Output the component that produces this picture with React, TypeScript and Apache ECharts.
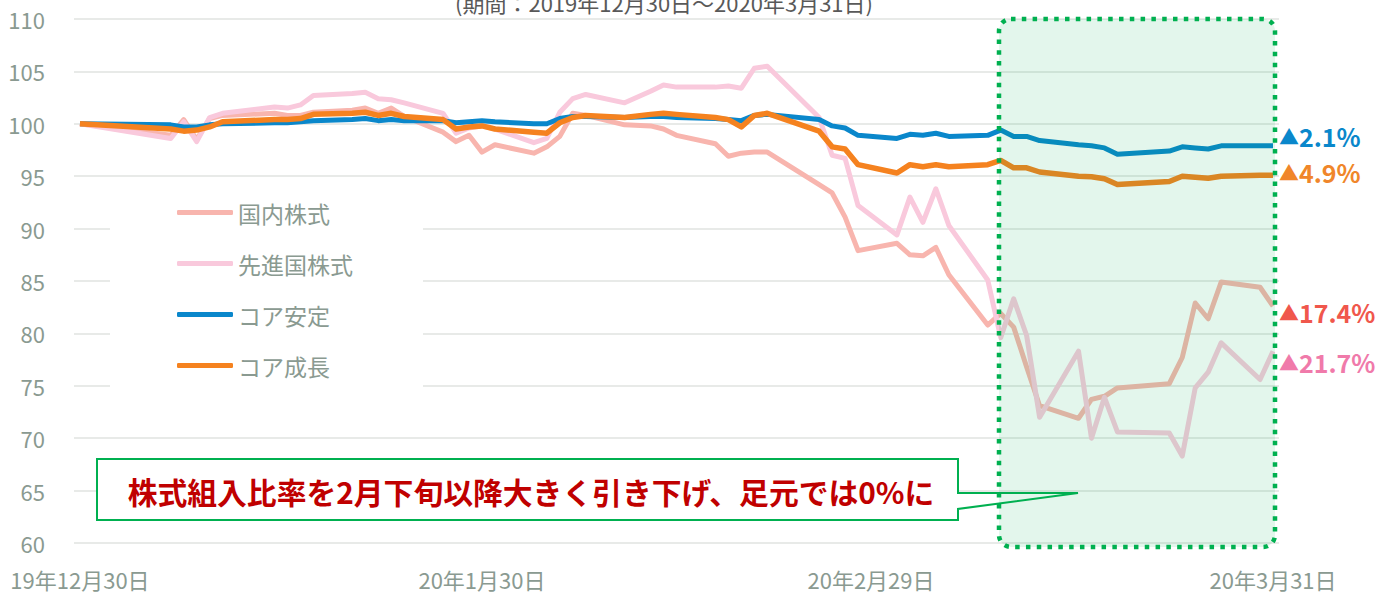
import React, { useEffect, useRef } from "react";
import * as echarts from "echarts";

const dates = [
  "2019-12-30",
  "2020-01-06", "2020-01-07", "2020-01-08", "2020-01-09", "2020-01-10",
  "2020-01-14", "2020-01-15", "2020-01-16", "2020-01-17",
  "2020-01-20", "2020-01-21", "2020-01-22", "2020-01-23", "2020-01-24",
  "2020-01-27", "2020-01-28", "2020-01-29", "2020-01-30", "2020-01-31",
  "2020-02-03", "2020-02-04", "2020-02-05", "2020-02-06", "2020-02-07",
  "2020-02-10", "2020-02-12", "2020-02-13", "2020-02-14",
  "2020-02-17", "2020-02-18", "2020-02-19", "2020-02-20", "2020-02-21",
  "2020-02-25", "2020-02-26", "2020-02-27", "2020-02-28",
  "2020-03-02", "2020-03-03", "2020-03-04", "2020-03-05", "2020-03-06",
  "2020-03-09", "2020-03-10", "2020-03-11", "2020-03-12", "2020-03-13",
  "2020-03-16", "2020-03-17", "2020-03-18", "2020-03-19",
  "2020-03-23", "2020-03-24", "2020-03-25", "2020-03-26", "2020-03-27",
  "2020-03-30", "2020-03-31",
];

const domesticStocks = [
  100, 98.9, 100.4, 98.5, 100.5, 100.8, 101.0, 100.8, 100.8, 101.1,
  101.3, 101.5, 101.0, 101.5, 100.7, 99.2, 98.3, 98.9, 97.3, 98.0,
  97.2, 97.8, 98.8, 101.0, 100.8, 99.9, 99.8, 99.5, 98.9, 98.1,
  96.9, 97.2, 97.3, 97.3, 94.2, 93.4, 91.1, 87.9, 88.6, 87.5,
  87.4, 88.2, 85.6, 80.8, 81.9, 80.6, 76.8, 73.1, 71.9, 73.7,
  74.0, 74.8, 75.2, 77.7, 82.9, 81.4, 84.9, 84.4, 82.6,
];

const developedStocks = [
  100, 98.6, 100.2, 98.3, 100.6, 101.0, 101.6, 101.5, 101.8, 102.7,
  102.9, 103.0, 102.4, 102.3, 102.0, 101.0, 99.1, 99.6, 99.8, 99.5,
  98.2, 98.6, 101.1, 102.4, 102.8, 102.0, 103.1, 103.7, 103.5, 103.5,
  103.6, 103.4, 105.3, 105.5, 100.6, 97.0, 96.7, 92.2, 89.4, 93.0,
  90.6, 93.8, 90.3, 85.1, 79.6, 83.3, 79.8, 72.0, 78.3, 70.0,
  73.9, 70.6, 70.5, 68.3, 74.8, 76.3, 79.1, 75.6, 78.3,
];

const coreStable = [
  100, 99.9, 99.7, 99.7, 99.9, 100.0, 100.1, 100.1, 100.2, 100.3,
  100.4, 100.5, 100.3, 100.4, 100.3, 100.3, 100.1, 100.2, 100.3, 100.2,
  100.0, 100.0, 100.5, 100.7, 100.7, 100.6, 100.7, 100.7, 100.6, 100.5,
  100.4, 100.3, 100.8, 100.9, 100.4, 99.8, 99.6, 98.9, 98.6, 99.0,
  98.9, 99.1, 98.8, 98.9, 99.4, 98.8, 98.8, 98.4, 98.0, 97.9,
  97.7, 97.1, 97.4, 97.8, 97.7, 97.6, 97.9, 97.9, 97.9,
];

const coreGrowth = [
  100, 99.5, 99.3, 99.4, 99.7, 100.2, 100.4, 100.4, 100.5, 100.9,
  101.0, 101.1, 100.8, 101.0, 100.7, 100.4, 99.5, 99.7, 99.8, 99.5,
  99.2, 99.1, 100.1, 100.6, 100.8, 100.6, 100.9, 101.0, 100.9, 100.6,
  100.4, 99.7, 100.8, 101.0, 99.3, 97.8, 97.6, 96.1, 95.3, 96.1,
  95.9, 96.1, 95.9, 96.1, 96.5, 95.8, 95.8, 95.4, 95.0, 94.95,
  94.75, 94.2, 94.5, 95.0, 94.9, 94.8, 95.0, 95.1, 95.1,
];

const seriesNames = ["国内株式", "先進国株式", "コア安定", "コア成長"];
const seriesColors = ["#f8b5ae", "#f9c9dc", "#0a87cb", "#f5821f"];
const changeLabels = ["▲17.4%", "▲21.7%", "▲2.1%", "▲4.9%"];
const tickDates = ["2019-12-30", "2020-01-30", "2020-02-29", "2020-03-31"];
const tickLabels = ["19年12月30日", "20年1月30日", "20年2月29日", "20年3月31日"];
const periodText = "(期間：2019年12月30日～2020年3月31日)";
const calloutText = "株式組入比率を2月下旬以降大きく引き下げ、足元では0%に";

const FONT = "'Noto Sans CJK JP', 'Noto Sans', sans-serif";
const DAY = 86400000;
const base = Date.UTC(2019, 11, 30);
const dayOf = (s: string) => {
  const [y, m, d] = s.split("-").map(Number);
  return Math.round((Date.UTC(y, m - 1, d) - base) / DAY);
};

export default function App() {
  const ref = useRef<HTMLDivElement>(null);
  useEffect(() => {
    if (!ref.current) return;
    const chart = echarts.init(ref.current, null, { renderer: "svg" });
    const xs = dates.map(dayOf);
    const tickDays = tickDates.map(dayOf);
    const all = [domesticStocks, developedStocks, coreStable, coreGrowth];
    const labelColors = ["#f0574c", "#f07aaa", "#0a87cb", "#f0862a"];
    const labelY = [312, 362, 136, 172];

    chart.setOption({
      animation: false,
      textStyle: { fontFamily: FONT },
      grid: { left: 74, right: 100, top: 19, bottom: 51, containLabel: false },
      xAxis: {
        type: "value",
        min: -0.46,
        max: 92.46,
        axisLine: { show: false },
        axisTick: { show: false },
        splitLine: { show: false },
        axisLabel: {
          customValues: tickDays,
          formatter: (v: number) => {
            const i = tickDays.indexOf(Math.round(v));
            return i >= 0 ? tickLabels[i] : "";
          },
          color: "#8a9a91",
          fontSize: 22,
          fontFamily: FONT,
          margin: 25,
        },
      },
      yAxis: {
        type: "value",
        min: 60,
        max: 110,
        interval: 5,
        axisLine: { show: false },
        axisTick: { show: false },
        axisLabel: { color: "#8a9a91", fontSize: 22, fontFamily: FONT, margin: 29 },
        splitLine: { lineStyle: { color: "#e0e3e1", width: 1.6 } },
      },
      legend: {
        orient: "vertical",
        left: 110,
        top: 190,
        padding: [11, 70, 24, 67],
        backgroundColor: "#ffffff",
        itemWidth: 56,
        itemHeight: 5,
        itemGap: 28,
        icon: "roundRect",
        textStyle: { color: "#8a9a91", fontSize: 23, lineHeight: 23, fontFamily: FONT },
        data: seriesNames,
      },
      series: all.map((vals, i) => ({
        name: seriesNames[i],
        type: "line",
        showSymbol: false,
        symbol: "none",
        color: seriesColors[i],
        lineStyle: { width: i === 3 ? 5.5 : 5, color: seriesColors[i], join: "round" },
        data: vals.map((v, k) => [xs[k], v]),
        z: 2 + i,
      })),
      graphic: [
        {
          type: "text",
          x: 664,
          y: 2,
          z: 50,
          style: {
            text: periodText,
            fill: "#595959",
            font: `22px ${FONT}`,
            align: "center",
            verticalAlign: "middle",
          },
        },
        {
          type: "polygon",
          z: 60,
          shape: {
            points: [
              [97, 459], [958, 459], [958, 493], [1078, 493],
              [958, 509], [958, 520], [97, 520],
            ],
          },
          style: { fill: "#ffffff", stroke: "#00b050", lineWidth: 2 },
        },
        {
          type: "text",
          x: 531,
          y: 491,
          z: 61,
          style: {
            text: calloutText,
            fill: "#c00000",
            font: `bold 29.8px ${FONT}`,
            align: "center",
            verticalAlign: "middle",
          },
        },
        {
          type: "rect",
          z: 100,
          shape: { x: 999, y: 19, width: 276, height: 528, r: 12 },
          style: {
            fill: "rgba(0,176,80,0.11)",
            stroke: "#00b050",
            lineWidth: 4.5,
            lineDash: [4.5, 6.3],
          },
        },
        ...changeLabels.map((t, i) => ({
          type: "text",
          x: 1279,
          y: labelY[i],
          z: 110,
          style: {
            text: `{tri|▲}{num|${t.slice(1)}}`,
            verticalAlign: "middle",
            rich: {
              tri: { fill: labelColors[i], font: `20px ${FONT}` },
              num: { fill: labelColors[i], font: `bold 25px ${FONT}` },
            },
          },
        })),
      ],
    });
    return () => chart.dispose();
  }, []);
  return (
    <div
      ref={ref}
      style={{ position: "fixed", left: 0, top: 0, width: 1379, height: 594, background: "#fff" }}
    />
  );
}
